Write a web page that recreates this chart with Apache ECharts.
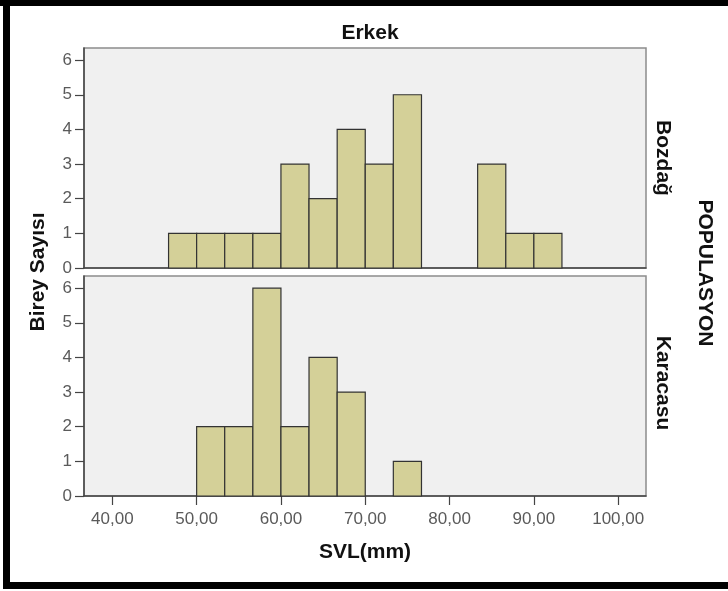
<!DOCTYPE html>
<html>
<head>
<meta charset="utf-8">
<script src="https://cdn.jsdelivr.net/npm/echarts@6/dist/echarts.min.js"></script>
<style>
html,body{margin:0;padding:0;background:#fff;}
#c{width:728px;height:591px;}
</style>
</head>
<body>
<div id="c"></div>
<script>
// Histogram bin edges (SVL, mm)
const binEdges = [46.67, 50.00, 53.33, 56.67, 60.00, 63.33, 66.67, 70.00, 73.33, 76.67, 80.00, 83.33, 86.67, 90.00, 93.33];
// Counts per bin
const bozdagCounts   = [1, 1, 1, 1, 3, 2, 4, 3, 5, 0, 0, 3, 1, 1];
const karacasuCounts = [0, 2, 2, 6, 2, 4, 3, 0, 1, 0, 0, 0, 0, 0];
// Axis ticks
const xTicks = [40, 50, 60, 70, 80, 90, 100];
const yTicks = [0, 1, 2, 3, 4, 5, 6];
const panelNames = ['Bozdağ', 'Karacasu'];
const titleText = 'Erkek';
const xName = 'SVL(mm)';
const yName = 'Birey Sayısı';
const facetName = 'POPULASYON';

function toData(counts) {
  const out = [];
  counts.forEach((c, i) => { if (c > 0) out.push([binEdges[i], binEdges[i + 1], c]); });
  return out;
}

const FILL = '#d4d098';
const STROKE = '#333333';
const font = 'Arial, "Liberation Sans", sans-serif';

function renderItem(params, api) {
  const lo = api.value(0), hi = api.value(1), c = api.value(2);
  const p0 = api.coord([lo, 0]);
  const p1 = api.coord([hi, c]);
  return {
    type: 'rect',
    shape: { x: p0[0], y: p1[1], width: p1[0] - p0[0], height: p0[1] - p1[1] },
    style: { fill: FILL, stroke: STROKE, lineWidth: 1.2 }
  };
}

const X_MIN = 36.64, X_MAX = 103.3, Y_MAX = 6.35;

function makeX(idx, showLabels) {
  return {
    type: 'value', gridIndex: idx, min: X_MIN, max: X_MAX,
    splitLine: { show: false },
    axisLine: { show: true, onZero: false, lineStyle: { color: '#444', width: 1.5 } },
    axisTick: { show: showLabels, length: 9, customValues: xTicks, lineStyle: { color: '#444', width: 1.2 } },
    axisLabel: {
      show: showLabels, customValues: xTicks, margin: 15,
      color: '#5a5a5a', fontSize: 17, fontFamily: font,
      formatter: v => v.toFixed(2).replace('.', ',')
    }
  };
}
function makeY(idx) {
  return {
    type: 'value', gridIndex: idx, min: 0, max: Y_MAX,
    splitLine: { show: false },
    axisLine: { show: true, lineStyle: { color: '#444', width: 1.5 } },
    axisTick: { show: true, length: 9, customValues: yTicks, lineStyle: { color: '#444', width: 1.2 } },
    axisLabel: { customValues: yTicks, margin: 12, color: '#5a5a5a', fontSize: 17, fontFamily: font }
  };
}

const chart = echarts.init(document.getElementById('c'), null, { renderer: 'canvas' });
chart.setOption({
  backgroundColor: '#ffffff',
  animation: false,
  grid: [
    { left: 84, top: 48, width: 562, height: 220, show: true, backgroundColor: '#f0f0f0', borderColor: '#8c8c8c', borderWidth: 1.5 },
    { left: 84, top: 276, width: 562, height: 220, show: true, backgroundColor: '#f0f0f0', borderColor: '#8c8c8c', borderWidth: 1.5 }
  ],
  xAxis: [makeX(0, false), makeX(1, true)],
  yAxis: [makeY(0), makeY(1)],
  series: [
    { type: 'custom', xAxisIndex: 0, yAxisIndex: 0, renderItem, encode: { x: [0, 1], y: 2 }, data: toData(bozdagCounts) },
    { type: 'custom', xAxisIndex: 1, yAxisIndex: 1, renderItem, encode: { x: [0, 1], y: 2 }, data: toData(karacasuCounts) }
  ],
  graphic: [
    { type: 'rect', shape: { x: 0, y: 0, width: 728, height: 6 }, style: { fill: '#000' } },
    { type: 'rect', shape: { x: 3, y: 0, width: 7, height: 589 }, style: { fill: '#000' } },
    { type: 'rect', shape: { x: 3, y: 582, width: 725, height: 7 }, style: { fill: '#000' } },
    { type: 'text', x: 370, y: 33, style: { text: titleText, fontSize: 21, fontWeight: 'bold', fontFamily: font, fill: '#111', align: 'center', verticalAlign: 'middle' } },
    { type: 'text', x: 365, y: 552, style: { text: xName, fontSize: 21, fontWeight: 'bold', fontFamily: font, fill: '#111', align: 'center', verticalAlign: 'middle' } },
    { type: 'text', x: 38, y: 272, rotation: Math.PI / 2, style: { text: yName, fontSize: 21, fontWeight: 'bold', fontFamily: font, fill: '#111', align: 'center', verticalAlign: 'middle' } },
    { type: 'text', x: 663, y: 158, rotation: -Math.PI / 2, style: { text: panelNames[0], fontSize: 21, fontWeight: 'bold', fontFamily: font, fill: '#111', align: 'center', verticalAlign: 'middle' } },
    { type: 'text', x: 663, y: 383, rotation: -Math.PI / 2, style: { text: panelNames[1], fontSize: 21, fontWeight: 'bold', fontFamily: font, fill: '#111', align: 'center', verticalAlign: 'middle' } },
    { type: 'text', x: 705, y: 273, rotation: -Math.PI / 2, style: { text: facetName, fontSize: 21, fontWeight: 'bold', fontFamily: font, fill: '#111', align: 'center', verticalAlign: 'middle' } }
  ]
});
</script>
</body>
</html>
